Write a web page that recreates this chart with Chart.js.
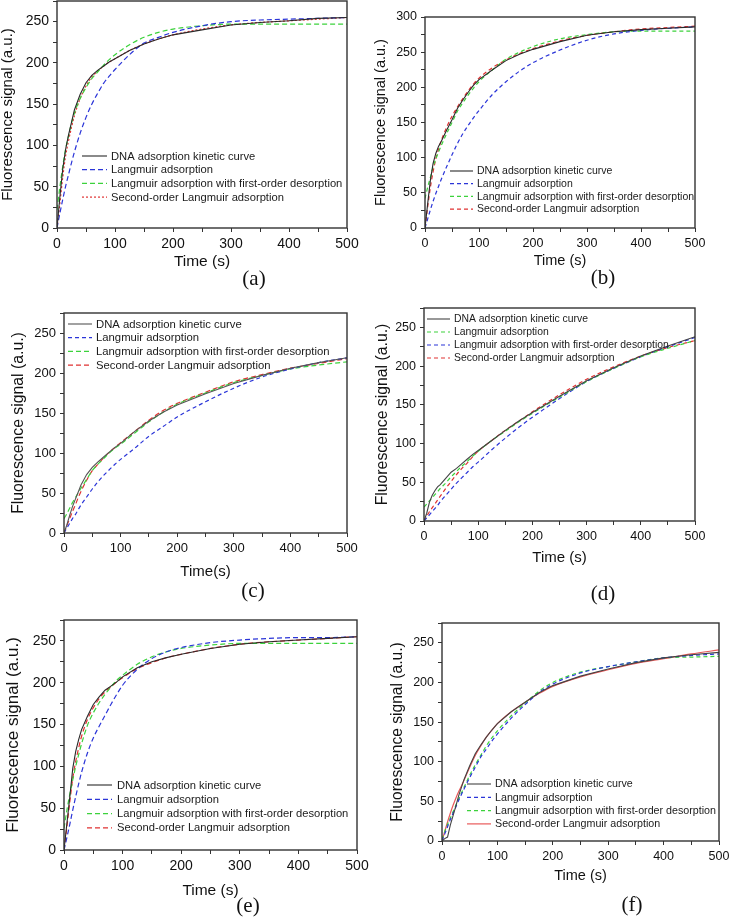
<!DOCTYPE html>
<html><head><meta charset="utf-8">
<script src="https://cdn.jsdelivr.net/npm/chart.js@4.4.1/dist/chart.umd.min.js"></script>
<style>
html,body{margin:0;padding:0;background:#fff;}
#wrap{position:relative;width:729px;height:917px;overflow:hidden;background:#fff;}
canvas{position:absolute;left:0;top:0;}
.lab{position:absolute;font-family:"Liberation Serif","Times New Roman",serif;font-size:21px;color:#111;transform:translate(-50%,-50%);white-space:nowrap;}
</style></head><body>
<div id="wrap">
<canvas id="pa" width="729" height="917"></canvas>
<canvas id="pb" width="729" height="917"></canvas>
<canvas id="pc" width="729" height="917"></canvas>
<canvas id="pd" width="729" height="917"></canvas>
<canvas id="pe" width="729" height="917"></canvas>
<canvas id="pf" width="729" height="917"></canvas>
<div class="lab" style="left:254px;top:278px">(a)</div>
<div class="lab" style="left:603px;top:277px">(b)</div>
<div class="lab" style="left:253px;top:590px">(c)</div>
<div class="lab" style="left:603px;top:593px">(d)</div>
<div class="lab" style="left:248px;top:905px">(e)</div>
<div class="lab" style="left:632px;top:904px">(f)</div>
</div>
<script>
// ---- data ----
const time = [0,5,10,15,20,25,30,40,50,60,70,80,90,100,125,150,175,200,250,300,350,400,450,500];
const nameDNA = 'DNA adsorption kinetic curve';
const nameLang = 'Langmuir adsorption';
const nameDes = 'Langmuir adsorption with first-order desorption';
const nameSec = 'Second-order Langmuir adsorption';
const xTickLabels = [0,100,200,300,400,500];
const yTickLabels275 = [0,50,100,150,200,250];
const yTickLabels300 = [0,50,100,150,200,250,300];

// (a)
const dnaA  = [0,38,72,96,113,128,143,162,176,185,191,196,201,205,215,223,229,234,240,246,249,251,254,255];
const langA = [0,18,35,51,65,79,92,115,134,150,163,175,184,192,210,224,231,237,245,250,252,253,254,255];
const desA  = [22,50,75,96,112,127,139,157,170,181,189,197,204,210,222,231,237,241,245,247,247,247,247,247];
const secA  = [0,30,62,88,106,122,136,157,172,183,190,196,201,205,215,223,229,234,241,246,249,251,253,255];
// (b)
const dnaB  = [0,35,68,92,106,116,123,139,154,170,182,193,203,211,225,238,247,254,265,274,279,282,284,286];
const langB = [0,13,26,38,49,59,69,87,104,120,134,146,157,167,190,208,223,235,253,267,276,281,284,286];
const desB  = [42,58,72,87,98,108,117,134,150,166,178,189,199,208,225,240,250,258,269,275,279,280,280,280];
const secB  = [0,30,58,80,98,112,124,143,159,172,184,195,205,213,228,239,248,255,266,274,279,283,285,287];
// (c)
const dnaC  = [0,10,22,33,42,51,60,73,82,89,95,101,107,112,127,140,151,160,174,187,197,206,213,219];
const langC = [0,6,12,18,23,29,35,45,55,64,72,79,86,92,106,121,133,145,164,181,195,205,213,219];
const desC  = [18,24,31,38,44,50,56,67,78,86,93,100,106,111,125,139,151,161,175,188,197,205,210,214];
const secC  = [0,9,18,27,35,44,52,66,78,86,94,101,107,113,127,141,153,162,176,189,198,206,212,218];
// (d)  (legend: Langmuir = green, with desorption = blue)
const dnaD  = [0,10,24,33,39,44,47,55,63,68,74,80,86,91,104,117,129,140,161,181,198,213,226,238];
const langD = [18,22,26,30,34,38,42,49,57,64,71,77,84,90,104,116,128,139,160,180,197,212,223,233];
const desD  = [0,4,8,12,16,20,25,33,41,49,56,63,70,76,92,107,121,134,158,180,197,212,225,237];
const secD  = [0,6,12,17,22,27,32,42,51,60,68,75,83,90,104,117,129,141,163,183,199,213,224,233];
// (e)
const dnaE  = [0,32,64,98,118,132,144,160,174,183,191,196,201,207,218,225,230,234,241,246,249,251,253,255];
const langE = [0,15,31,48,64,79,93,116,134,148,161,174,186,197,216,229,237,242,248,251,253,254,254,255];
const desE  = [26,48,67,84,100,114,127,149,164,176,186,195,203,209,222,231,237,241,245,247,247,247,247,247];
const secE  = [0,28,58,86,106,122,136,156,170,181,189,195,201,206,217,224,230,234,241,246,249,251,253,255];
// (f)
const dnaF  = [0,3,5,20,32,44,57,78,95,110,121,131,140,148,163,175,187,196,208,217,225,231,235,238];
const langF = [0,9,18,27,35,43,51,66,80,93,106,116,126,135,155,172,187,198,212,220,226,231,234,236];
const desF  = [2,12,21,29,37,45,53,68,83,96,108,120,130,139,158,174,189,200,213,220,226,231,232,233];
const secF  = [0,12,24,35,45,54,62,77,93,108,120,131,140,148,163,175,186,195,207,216,224,230,236,241];

// ---- styling ----
const BLACK = '#2a2a2a', BLUE = '#2b35d8', GREEN = '#3cd23c', RED = '#e03232';
const FONT = '"Liberation Sans", Arial, Helvetica, sans-serif';

const framePlugin = {
  id: 'frame',
  afterDatasetsDraw(chart, args, o) {
    const {ctx, chartArea: a} = chart;
    ctx.save();
    ctx.strokeStyle = o.color; ctx.lineWidth = o.width;
    ctx.strokeRect(a.left, a.top, a.right - a.left, a.bottom - a.top);
    ctx.restore();
  }
};
const legendPlugin = {
  id: 'inLegend',
  afterDatasetsDraw(chart, args, o) {
    const ctx = chart.ctx;
    ctx.save();
    ctx.font = o.size + 'px ' + FONT;
    ctx.textBaseline = 'middle';
    ctx.textAlign = 'left';
    chart.data.datasets.forEach((ds, i) => {
      const y = o.y + i * o.dy;
      ctx.strokeStyle = ds.borderColor; ctx.lineWidth = ds.borderWidth;
      ctx.setLineDash(ds.borderDash || []);
      ctx.beginPath(); ctx.moveTo(o.x, y); ctx.lineTo(o.x + o.len, y); ctx.stroke();
      ctx.setLineDash([]);
      ctx.fillStyle = '#1a1a1a';
      ctx.fillText(ds.label, o.x + o.len + o.gap, y + 0.5);
    });
    ctx.restore();
  }
};

function pts(arr) { return time.map((t, i) => ({x: t, y: arr[i]})); }
function ds(label, arr, color, dash, isData) {
  return {
    label, data: pts(arr), borderColor: color, borderWidth: isData ? 1.1 : 1.2,
    borderDash: dash, pointRadius: 0, fill: false,
    tension: isData ? 0 : 0.4, cubicInterpolationMode: isData ? 'default' : 'monotone'
  };
}

function makePanel(id, L, datasets, yMax, yLabels, xTitle, lay) {
  const W = 729, H = 917;
  const padL = Math.max(0, lay.ytx - lay.yts / 2);
  const wy = lay.L - padL;
  const hx = lay.xty + lay.xts / 2 - lay.B;
  const padB = H - lay.B - hx;
  new Chart(document.getElementById(id), {
    type: 'line',
    data: {datasets},
    plugins: [framePlugin, legendPlugin],
    options: {
      responsive: false, animation: false, devicePixelRatio: 1,
      layout: {padding: {left: padL, top: lay.T, right: W - lay.R, bottom: padB}},
      plugins: {
        legend: {display: false}, tooltip: {enabled: false},
        frame: {color: '#333', width: 1.4},
        inLegend: L
      },
      scales: {
        x: {
          type: 'linear', min: 0, max: 500,
          border: {display: false},
          grid: {drawOnChartArea: false, drawTicks: true, tickLength: 4, tickWidth: 1, tickColor: '#333'},
          ticks: {stepSize: 50, autoSkip: false, maxRotation: 0, padding: 4, color: '#111',
                  font: {family: FONT, size: lay.tks},
                  callback: v => xTickLabels.includes(v) ? String(v) : ''},
          title: {display: true, text: xTitle, color: '#111', padding: 0,
                  font: {family: FONT, size: lay.xts, lineHeight: 1}},
          afterFit: s => { s.height = hx; s.paddingLeft = 0; s.paddingRight = 0; }
        },
        y: {
          type: 'linear', min: 0, max: yMax,
          border: {display: false},
          grid: {drawOnChartArea: false, drawTicks: true, tickLength: 4, tickWidth: 1, tickColor: '#333'},
          ticks: {stepSize: 25, autoSkip: false, padding: 4, color: '#111',
                  font: {family: FONT, size: lay.tks},
                  callback: v => yLabels.includes(v) ? String(v) : ''},
          title: {display: true, text: 'Fluorescence signal (a.u.)', color: '#111', padding: 0,
                  font: {family: FONT, size: lay.yts, lineHeight: 1}},
          afterFit: s => { s.width = wy; s.paddingTop = 0; s.paddingBottom = 0; }
        }
      }
    }
  });
}

// (a)
makePanel('pa', {x: 82, y: 156, dy: 13.7, len: 25, gap: 4, size: 11.2}, [
  ds(nameDNA, dnaA, BLACK, [], true),
  ds(nameLang, langA, BLUE, [5, 3]),
  ds(nameDes, desA, GREEN, [5, 3]),
  ds(nameSec, secA, RED, [2, 2])
], 275, yTickLabels275, 'Time (s)', {L: 57, R: 347, T: 1, B: 228, ytx: 7.5, yts: 15, xty: 262, xts: 15.5, tks: 14});
// (b)
makePanel('pb', {x: 450, y: 171, dy: 12.7, len: 23, gap: 4, size: 10.5}, [
  ds(nameDNA, dnaB, BLACK, [], true),
  ds(nameLang, langB, BLUE, [4, 3]),
  ds(nameDes, desB, GREEN, [4, 3]),
  ds(nameSec, secB, RED, [4, 3])
], 300, yTickLabels300, 'Time (s)', {L: 425, R: 695, T: 17, B: 228, ytx: 380.7, yts: 14.5, xty: 261, xts: 14.5, tks: 12.5});
// (c)
makePanel('pc', {x: 68, y: 324, dy: 13.7, len: 24, gap: 4, size: 11.3}, [
  ds(nameDNA, dnaC, '#555', [], true),
  ds(nameLang, langC, BLUE, [4, 3]),
  ds(nameDes, desC, GREEN, [5, 3]),
  ds(nameSec, secC, RED, [5, 3])
], 275, yTickLabels275, 'Time(s)', {L: 64, R: 347, T: 313, B: 533, ytx: 19, yts: 15.8, xty: 571.7, xts: 15, tks: 13});
// (d)
makePanel('pd', {x: 427, y: 319, dy: 13, len: 23, gap: 4, size: 10.4}, [
  ds(nameDNA, dnaD, '#444', [], true),
  ds(nameLang, langD, GREEN, [4, 3]),
  ds(nameDes, desD, BLUE, [4, 3]),
  ds(nameSec, secD, RED, [4, 3])
], 275, yTickLabels275, 'Time (s)', {L: 424, R: 695, T: 308, B: 521, ytx: 383, yts: 15.8, xty: 557.7, xts: 15, tks: 12.5});
// (e)
makePanel('pe', {x: 87, y: 785, dy: 14.3, len: 25, gap: 5, size: 11.2}, [
  ds(nameDNA, dnaE, BLACK, [], true),
  ds(nameLang, langE, BLUE, [5, 3]),
  ds(nameDes, desE, GREEN, [5, 3]),
  ds(nameSec, secE, RED, [5, 3])
], 275, yTickLabels275, 'Time (s)', {L: 64, R: 357, T: 620, B: 850, ytx: 13.3, yts: 17, xty: 891, xts: 15.5, tks: 14});
// (f)
makePanel('pf', {x: 467, y: 784, dy: 13.3, len: 24, gap: 4, size: 10.7}, [
  ds(nameDNA, dnaF, '#444', [], true),
  ds(nameLang, langF, BLUE, [4, 3]),
  ds(nameDes, desF, GREEN, [4, 3]),
  ds(nameSec, secF, '#e85a5a', [])
], 275, yTickLabels275, 'Time (s)', {L: 442, R: 719, T: 623, B: 841, ytx: 398, yts: 15.6, xty: 875.7, xts: 14.5, tks: 12.5});
</script>
</body></html>
